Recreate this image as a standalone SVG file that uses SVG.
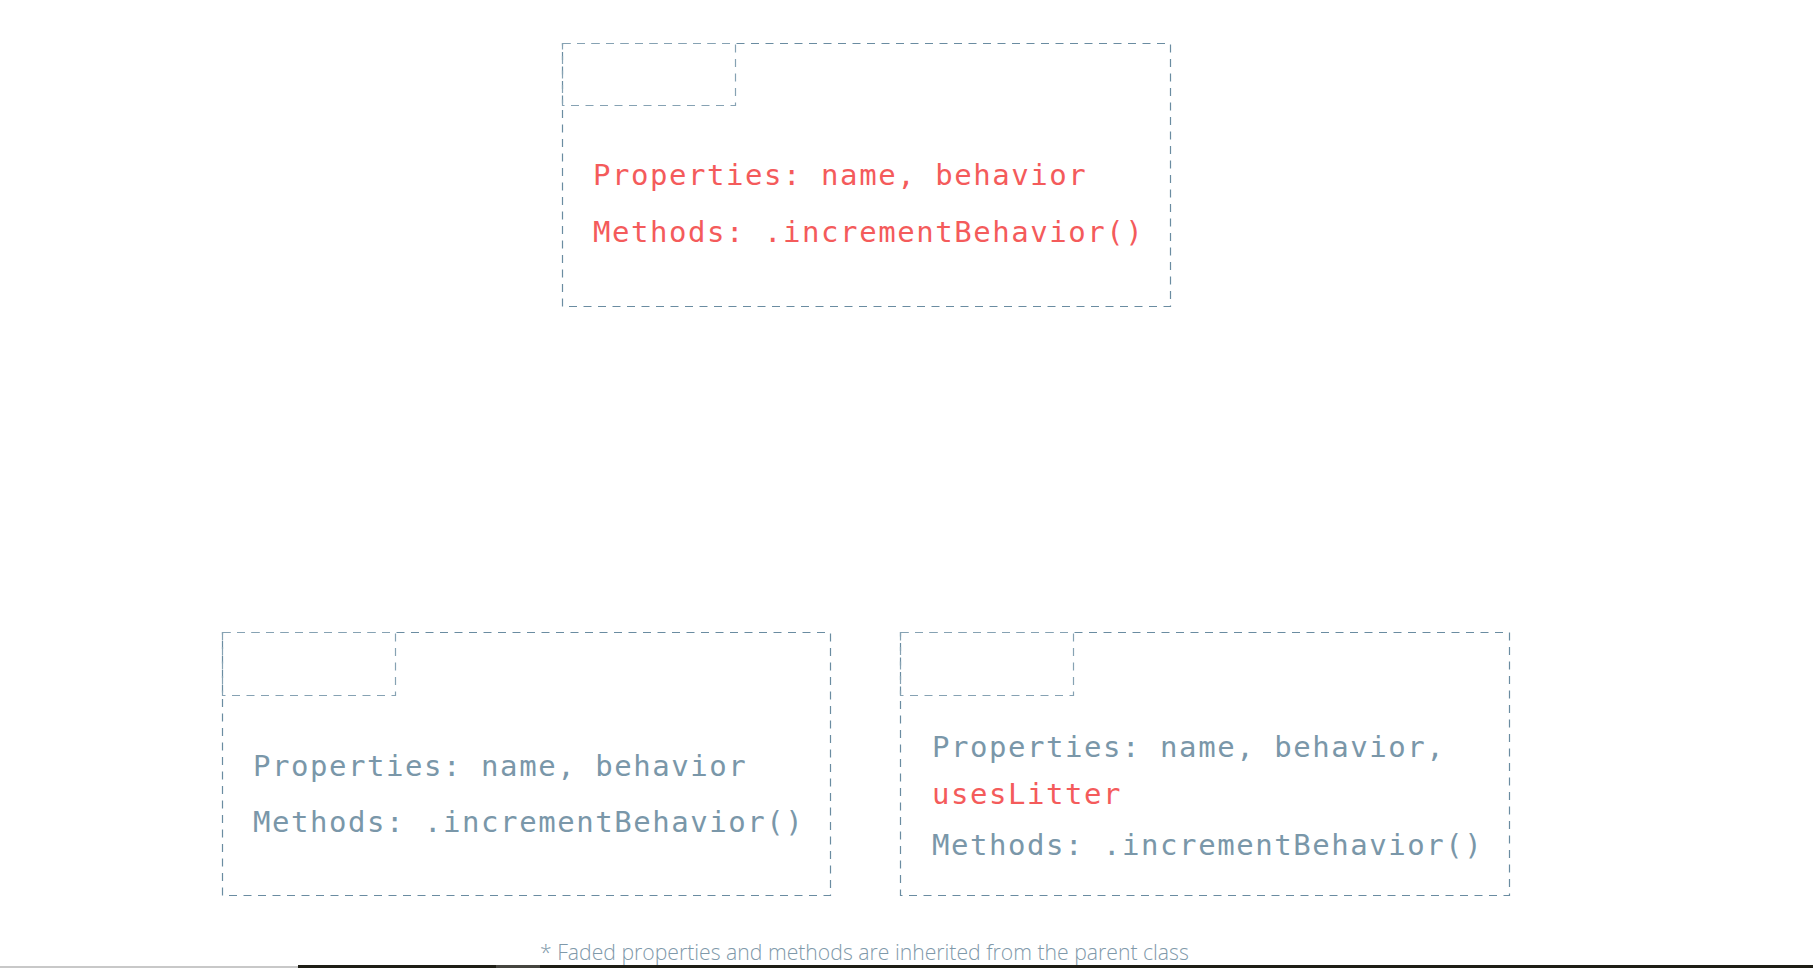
<svg xmlns="http://www.w3.org/2000/svg" width="1813" height="968" viewBox="0 0 1813 968">
<style>
.box{fill:none;stroke:#6a8ca1;stroke-width:1.2;stroke-dasharray:8 6.5}
.tab{fill:none;stroke:#86a2b3;stroke-width:1.2;stroke-dasharray:8 6.5}
.code{font-family:"DejaVu Sans Mono","Liberation Mono",monospace;font-size:29px;letter-spacing:1.55px}
.red{fill:#f45b5b}
.gray{fill:#7a97a9}
.note{font-family:"Open Sans","Liberation Sans",sans-serif;font-weight:300;font-size:21.2px;fill:#7f99aa}
</style>
<rect width="1813" height="968" fill="#ffffff"/>
<g id="node-parent">
<rect class="box" x="562.5" y="43.5" width="608" height="263"/>
<rect class="tab" x="562.5" y="43.5" width="173" height="62"/>
<text class="code red" x="593" y="185">Properties: name, behavior</text>
<text class="code red" x="593" y="242">Methods: .incrementBehavior()</text>
</g>
<g id="node-child-a">
<rect class="box" x="222.5" y="632.5" width="608" height="263"/>
<rect class="tab" x="222.5" y="632.5" width="173" height="63"/>
<text class="code gray" x="253" y="776">Properties: name, behavior</text>
<text class="code gray" x="253" y="832">Methods: .incrementBehavior()</text>
</g>
<g id="node-child-b">
<rect class="box" x="900.5" y="632.5" width="609" height="263"/>
<rect class="tab" x="900.5" y="632.5" width="173" height="63"/>
<text class="code gray" x="932" y="757">Properties: name, behavior,</text>
<text class="code red" x="932" y="803.5">usesLitter</text>
<text class="code gray" x="932" y="855">Methods: .incrementBehavior()</text>
</g>
<g id="connectors"></g>
<text class="note" x="540" y="960">* Faded properties and methods are inherited from the parent class</text>
<rect x="0" y="966" width="298" height="2" fill="#c8c8c8"/>
<rect x="298" y="965" width="1515" height="3" fill="#1e1e16"/>
<rect x="496" y="965" width="44" height="3" fill="#45453f"/>
</svg>
